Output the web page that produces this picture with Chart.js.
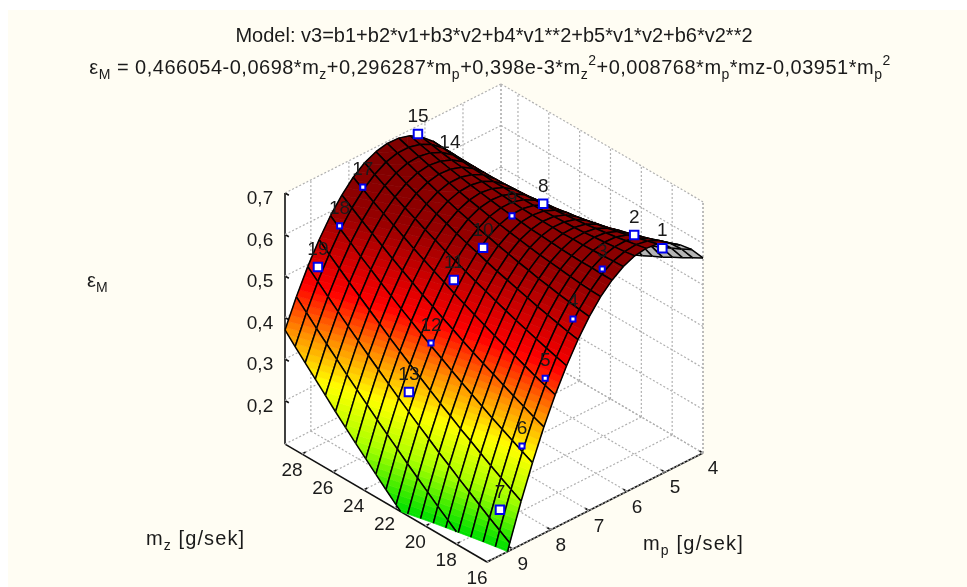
<!DOCTYPE html>
<html lang="pl">
<head>
    <meta charset="UTF-8">
    <title>Model powierzchni</title>
    <script src="https://cdn.jsdelivr.net/npm/chart.js"></script>
    <style>
        html, body { margin: 0; padding: 0; background: #fff; }
        canvas { display: block; }
    </style>
</head>
<body>
    <canvas id="myChart" width="967" height="587"></canvas>
    <script>
        // axis ranges and ticks
        const mzMin = 16, mzMax = 29.1;
        const mpMin = 4, mpMax = 9.68;
        const epsMin = 0.095, epsMax = 0.7;
        const mzTicks = [16, 18, 20, 22, 24, 26, 28];
        const mpTicks = [4, 5, 6, 7, 8, 9];
        const epsTicks = [0.2, 0.3, 0.4, 0.5, 0.6, 0.7];

        // surface heights, one row per mp value, one column per mz value
        const mzGrid = [16, 16.655, 17.31, 17.965, 18.62, 19.275, 19.93, 20.585, 21.24, 21.895, 22.55, 23.205, 23.86, 24.515, 25.17, 25.825, 26.48, 27.135, 27.79, 28.445, 29.1];
        const mpGrid = [4, 4.299, 4.598, 4.897, 5.196, 5.495, 5.794, 6.093, 6.392, 6.691, 6.99, 7.288, 7.587, 7.886, 8.185, 8.484, 8.783, 9.082, 9.381, 9.68];
        const epsGrid = [
            [.565, .551, .537, .524, .510, .498, .485, .473, .461, .449, .438, .427, .417, .407, .397, .388, .378, .370, .361, .353, .345],
            [.599, .586, .574, .562, .551, .540, .529, .519, .508, .499, .489, .480, .472, .463, .455, .448, .440, .433, .426, .420, .414],
            [.624, .614, .603, .593, .584, .574, .565, .557, .548, .541, .533, .526, .519, .512, .506, .500, .494, .489, .484, .480, .475],
            [.643, .634, .625, .617, .609, .602, .594, .588, .581, .575, .569, .563, .558, .553, .549, .545, .541, .538, .534, .532, .529],
            [.654, .647, .640, .633, .627, .621, .616, .611, .606, .602, .597, .594, .590, .587, .585, .582, .580, .578, .577, .576, .575],
            [.657, .652, .647, .642, .638, .634, .630, .627, .624, .621, .619, .617, .615, .614, .613, .612, .612, .612, .612, .613, .614],
            [.653, .649, .646, .643, .641, .638, .636, .635, .634, .633, .632, .632, .632, .633, .633, .635, .636, .638, .640, .643, .645],
            [.641, .640, .638, .637, .636, .636, .635, .636, .636, .637, .638, .640, .642, .644, .647, .649, .653, .656, .660, .665, .669],
            [.622, .622, .623, .623, .624, .625, .627, .629, .631, .634, .637, .640, .644, .648, .652, .657, .662, .667, .673, .679, .686],
            [.596, .597, .599, .602, .605, .608, .611, .615, .619, .623, .628, .633, .639, .644, .650, .657, .664, .671, .678, .686, .694],
            [.562, .565, .569, .573, .578, .582, .588, .593, .599, .605, .612, .618, .626, .633, .641, .649, .658, .667, .676, .686, .695],
            [.520, .525, .531, .537, .543, .550, .557, .564, .571, .579, .588, .596, .605, .615, .624, .634, .645, .655, .666, .678, .689],
            [.471, .478, .485, .493, .501, .509, .518, .527, .537, .546, .556, .567, .577, .589, .600, .612, .624, .636, .649, .662, .676],
            [.415, .423, .432, .442, .452, .462, .472, .483, .494, .506, .517, .530, .542, .555, .568, .582, .596, .610, .624, .639, .655],
            [.351, .361, .372, .383, .395, .407, .419, .431, .444, .458, .471, .485, .499, .514, .529, .544, .560, .576, .592, .609, .626],
            [.279, .291, .304, .317, .330, .344, .358, .372, .387, .402, .417, .433, .449, .465, .482, .499, .517, .534, .553, .571, .590],
            [.200, .214, .228, .243, .258, .274, .289, .306, .322, .339, .356, .373, .391, .409, .428, .447, .466, .485, .505, .525, .546],
            [.113, .129, .145, .162, .179, .196, .214, .231, .250, .268, .287, .306, .326, .346, .366, .387, .408, .429, .451, .473, .495],
            [.019, .037, .055, .073, .092, .111, .130, .150, .170, .190, .211, .232, .253, .275, .297, .319, .342, .365, .388, .412, .436],
            [-.082, -.063, -.043, -.023, -.003, .018, .039, .061, .083, .105, .127, .150, .173, .196, .220, .244, .269, .294, .319, .344, .370]
        ];

        // measured points
        const pointNames = ['1', '2', '3', '4', '5', '6', '7', '8', '9', '10', '11', '12', '13', '14', '15', '16', '17', '18', '19'];
        const pointMz = [16, 16, 16, 16, 16, 16, 16, 22, 22, 22, 22, 22, 22, 28, 28, 28, 28, 28, 28];
        const pointMp = [5.07, 5.81, 6.65, 7.42, 8.15, 8.76, 9.34, 5.77, 6.59, 7.35, 8.12, 8.72, 9.30, 5.79, 6.63, 7.34, 8.08, 8.69, 9.26];
        const pointEps = [.638, .704, .661, .576, .467, .332, .205, .647, .656, .614, .572, .448, .357, .623, .725, .67, .664, .599, .526];
        const coveredPoints = ['14', '16'];
        const partlyCovered = ['3', '4', '5', '6', '9', '12', '17', '18'];

        // colour ramp for the surface
        const rampLevels = [0.10, 0.20, 0.29, 0.37, 0.46, 0.60, 0.68];
        const rampColors = [[0, 224, 0], [170, 255, 0], [255, 255, 0], [255, 145, 0], [255, 0, 0], [150, 0, 0], [128, 0, 0]];
        const bandSize = 0.0125;

        const title1 = 'Model: v3=b1+b2*v1+b3*v2+b4*v1**2+b5*v1*v2+b6*v2**2';
        const title2 = [['ε', 0], ['M', 1], [' = 0,466054-0,0698*m', 0], ['z', 1], ['+0,296287*m', 0], ['p', 1], ['+0,398e-3*m', 0], ['z', 1], ['2', -1],
            ['+0,008768*m', 0], ['p', 1], ['*mz-0,03951*m', 0], ['p', 1], ['2', -1]];

        // oblique view of the box, front corner is mzMin / mpMax / epsMin
        const view = { ox: 487, oy: 562, mzX: -15.42, mzY: -9.0, mpX: -38.03, mpY: 19.2, epsY: -415 };
        function project(mz, mp, eps) {
            return {
                x: view.ox + view.mzX * (mz - mzMin) + view.mpX * (mp - mpMax),
                y: view.oy + view.mzY * (mz - mzMin) + view.mpY * (mp - mpMax) + view.epsY * (eps - epsMin)
            };
        }

        function lineSet(label, a, b, style) {
            return Object.assign({ label, type: 'line', data: [project(...a), project(...b)], pointRadius: 0, order: 5, fill: false, tension: 0 }, style);
        }

        const dotted = { borderColor: '#b0b0b0', borderWidth: 1.2, borderDash: [2, 2] };
        const solid = { borderColor: '#111', borderWidth: 1.6 };
        const datasets = [];

        // walls and floor grid
        mpTicks.forEach(mp => {
            datasets.push(lineSet('grid', [mzMax, mp, epsMin], [mzMax, mp, epsMax], dotted));
            datasets.push(lineSet('grid', [mzMin, mp, epsMin], [mzMax, mp, epsMin], dotted));
        });
        mzTicks.forEach(mz => {
            datasets.push(lineSet('grid', [mz, mpMin, epsMin], [mz, mpMin, epsMax], dotted));
            datasets.push(lineSet('grid', [mz, mpMin, epsMin], [mz, mpMax, epsMin], dotted));
        });
        epsTicks.forEach(e => {
            datasets.push(lineSet('grid', [mzMax, mpMax, e], [mzMax, mpMin, e], dotted));
            datasets.push(lineSet('grid', [mzMax, mpMin, e], [mzMin, mpMin, e], dotted));
        });
        datasets.push(lineSet('grid', [mzMax, mpMin, epsMin], [mzMax, mpMin, epsMax], dotted));
        datasets.push(lineSet('grid', [mzMin, mpMin, epsMin], [mzMin, mpMin, epsMax], dotted));
        datasets.push(lineSet('grid', [mzMax, mpMin, epsMin], [mzMax, mpMax, epsMin], dotted));
        datasets.push(lineSet('grid', [mzMax, mpMin, epsMin], [mzMin, mpMin, epsMin], dotted));

        // axes
        datasets.push(lineSet('axis', [mzMax, mpMax, epsMin], [mzMax, mpMax, epsMax], solid));
        datasets.push(lineSet('axis', [mzMin, mpMax, epsMin], [mzMax, mpMax, epsMin], solid));
        datasets.push(lineSet('axis', [mzMin, mpMax, epsMin], [mzMin, mpMin, epsMin], solid));
        epsTicks.forEach(e => datasets.push(lineSet('axis', [mzMax, mpMax, e], [mzMax - 0.25, mpMax, e], solid)));
        mzTicks.forEach(mz => datasets.push(lineSet('axis', [mz, mpMax, epsMin], [mz, mpMax - 0.1, epsMin], solid)));
        mpTicks.forEach(mp => datasets.push(lineSet('axis', [mzMin, mp, epsMin], [mzMin + 0.25, mp, epsMin], solid)));

        function pointSet(label, names, order) {
            const data = pointNames.map((n, i) => Object.assign(project(pointMz[i], pointMp[i], pointEps[i]), { name: n })).filter(p => names.includes(p.name));
            return {
                label, data, order, pointStyle: 'rect', backgroundColor: '#fff', borderColor: '#0000ee', borderWidth: 2,
                pointRadius: c => coveredPoints.includes(c.raw.name) ? 3 : partlyCovered.includes(c.raw.name) ? 3.6 : 6
            };
        }
        datasets.push(pointSet('behind', coveredPoints, 3));
        datasets.push(pointSet('front', pointNames.filter(n => !coveredPoints.includes(n)), 1));

        function rampColor(level) {
            if (level <= rampLevels[0]) return rampColors[0];
            for (let k = 1; k < rampLevels.length; k++) {
                if (level <= rampLevels[k]) {
                    const t = (level - rampLevels[k - 1]) / (rampLevels[k] - rampLevels[k - 1]);
                    return rampColors[k].map((c, n) => Math.round(rampColors[k - 1][n] + (c - rampColors[k - 1][n]) * t));
                }
            }
            return rampColors[rampColors.length - 1];
        }

        // keep the part of a polygon on one side of a height, vertices are [mz, mp, eps]
        function clipAbove(poly, limit, sign) {
            const out = [];
            poly.forEach((a, k) => {
                const b = poly[(k + 1) % poly.length];
                const ina = sign * (a[2] - limit) >= 0, inb = sign * (b[2] - limit) >= 0;
                if (ina) out.push(a);
                if (ina !== inb) {
                    const t = (limit - a[2]) / (b[2] - a[2]);
                    out.push([a[0] + (b[0] - a[0]) * t, a[1] + (b[1] - a[1]) * t, limit]);
                }
            });
            return out;
        }

        const tickFont = '19px "Liberation Sans"';
        const titleFont = '20px "Liberation Sans"';
        const subFont = '14px "Liberation Sans"';

        // text with sub and superscript parts: 0 normal, 1 sub, -1 super
        function drawRich(ctx, parts, x, y, align, spacing) {
            ctx.letterSpacing = spacing + 'px';
            const widthOf = p => { ctx.font = p[1] ? subFont : titleFont; return ctx.measureText(p[0]).width; };
            let pen = x;
            if (align === 'center') pen -= parts.reduce((w, p) => w + widthOf(p), 0) / 2;
            ctx.textAlign = 'left';
            parts.forEach(p => {
                ctx.font = p[1] ? subFont : titleFont;
                ctx.fillText(p[0], pen, y + p[1] * 7);
                pen += ctx.measureText(p[0]).width;
            });
            ctx.textAlign = 'center';
            ctx.letterSpacing = '0px';
        }

        const surfacePlugin = {
            id: 'surface',
            beforeDraw(chart) {
                const ctx = chart.ctx;
                ctx.save();
                ctx.fillStyle = '#fffdf3';
                ctx.fillRect(8, 10, chart.width - 8, chart.height - 10);
                ctx.restore();
            },
            beforeDatasetsDraw(chart) {
                // white back walls and floor
                const ctx = chart.ctx;
                const px = p => [chart.scales.x.getPixelForValue(p.x), chart.scales.y.getPixelForValue(p.y)];
                const outline = [[mzMax, mpMax, epsMin], [mzMax, mpMax, epsMax], [mzMax, mpMin, epsMax], [mzMin, mpMin, epsMax], [mzMin, mpMin, epsMin], [mzMin, mpMax, epsMin]];
                ctx.save();
                ctx.fillStyle = '#fff';
                ctx.beginPath();
                outline.forEach(v => ctx.lineTo(...px(project(...v))));
                ctx.closePath();
                ctx.fill();
                ctx.restore();
            },
            afterDatasetDraw(chart, args) {
                if (chart.data.datasets[args.index].label !== 'behind') return;
                const ctx = chart.ctx;
                const sx = chart.scales.x, sy = chart.scales.y;
                const toPx = v => {
                    const p = project(v[0], v[1], v[2]);
                    return [sx.getPixelForValue(p.x), sy.getPixelForValue(p.y)];
                };
                ctx.save();
                ctx.lineJoin = 'round';
                for (let i = mzGrid.length - 2; i >= 0; i--) {
                    for (let j = 0; j < mpGrid.length - 1; j++) {
                        const cell = [
                            [mzGrid[i], mpGrid[j], epsGrid[j][i]],
                            [mzGrid[i + 1], mpGrid[j], epsGrid[j][i + 1]],
                            [mzGrid[i + 1], mpGrid[j + 1], epsGrid[j + 1][i + 1]],
                            [mzGrid[i], mpGrid[j + 1], epsGrid[j + 1][i]]
                        ];
                        const shown = clipAbove(cell, epsMin, 1);
                        if (shown.length < 3) continue;
                        const s = cell.map(toPx);
                        let area = 0;
                        s.forEach((a, k) => { const b = s[(k + 1) % 4]; area += a[0] * b[1] - b[0] * a[1]; });
                        const underside = area > 0;
                        const paint = (poly, colour) => {
                            ctx.fillStyle = colour;
                            ctx.strokeStyle = colour;
                            ctx.lineWidth = 0.7;
                            ctx.beginPath();
                            poly.forEach(v => ctx.lineTo(...toPx(v)));
                            ctx.closePath();
                            ctx.fill();
                            ctx.stroke();
                        };
                        if (underside) {
                            paint(shown, '#b4b4b4');
                        } else {
                            const lo = Math.min(...shown.map(v => v[2])), hi = Math.max(...shown.map(v => v[2]));
                            for (let b = Math.floor(lo / bandSize); b * bandSize < hi; b++) {
                                let part = clipAbove(shown, b * bandSize, 1);
                                if (part.length) part = clipAbove(part, (b + 1) * bandSize, -1);
                                if (part.length >= 3) paint(part, 'rgb(' + rampColor((b + 0.5) * bandSize).join(',') + ')');
                            }
                        }
                        // mesh
                        ctx.strokeStyle = '#000';
                        ctx.lineWidth = 1.5;
                        cell.forEach((a, k) => {
                            const edge = clipAbove([a, cell[(k + 1) % 4]], epsMin, 1);
                            if (edge.length < 2) return;
                            ctx.beginPath();
                            ctx.moveTo(...toPx(edge[0]));
                            ctx.lineTo(...toPx(edge[1]));
                            ctx.stroke();
                        });
                    }
                }
                ctx.restore();
            },
            afterDatasetsDraw(chart) {
                const ctx = chart.ctx;
                const sx = chart.scales.x, sy = chart.scales.y;
                const at = (mz, mp, e) => {
                    const p = project(mz, mp, e);
                    return [sx.getPixelForValue(p.x), sy.getPixelForValue(p.y)];
                };
                ctx.save();
                ctx.fillStyle = '#1a1a1a';
                ctx.textAlign = 'center';
                ctx.textBaseline = 'middle';
                ctx.font = tickFont;

                // tick labels
                epsTicks.forEach(e => {
                    const [x, y] = at(mzMax, mpMax, e);
                    ctx.fillText(e.toFixed(1).replace('.', ','), x - 25, y + 6);
                });
                mzTicks.forEach(mz => {
                    const [x, y] = at(mz, mpMax, epsMin);
                    ctx.fillText(mz, x - 10, y + 17);
                });
                mpTicks.forEach(mp => {
                    const [x, y] = at(mzMin, mp, epsMin);
                    ctx.fillText(mp, x + 10, y + 16);
                });

                // point names
                pointNames.forEach((n, i) => {
                    if (n === '16') return;
                    const [x, y] = at(pointMz[i], pointMp[i], pointEps[i]);
                    ctx.fillText(n, x, y - 17);
                });

                // titles
                ctx.font = titleFont;
                ctx.fillText(title1, 494, 36);
                drawRich(ctx, title2, 490, 68, 'center', 0.5);
                drawRich(ctx, [['ε', 0], ['M', 1]], 87, 281, 'left', 0);
                drawRich(ctx, [['m', 0], ['z', 1], [' [g/sek]', 0]], 146, 539, 'left', 1.1);
                drawRich(ctx, [['m', 0], ['p', 1], [' [g/sek]', 0]], 643, 544, 'left', 1.2);
                ctx.restore();
            }
        };

        new Chart(document.getElementById('myChart'), {
            type: 'scatter',
            data: { datasets },
            options: {
                responsive: false,
                animation: false,
                layout: { padding: 0, autoPadding: false },
                plugins: { legend: { display: false }, title: { display: false }, tooltip: { enabled: false } },
                scales: {
                    x: { type: 'linear', display: false, min: 0, max: 967 },
                    y: { type: 'linear', display: false, min: 0, max: 587, reverse: true }
                }
            },
            plugins: [surfacePlugin]
        });
    </script>
</body>
</html>
